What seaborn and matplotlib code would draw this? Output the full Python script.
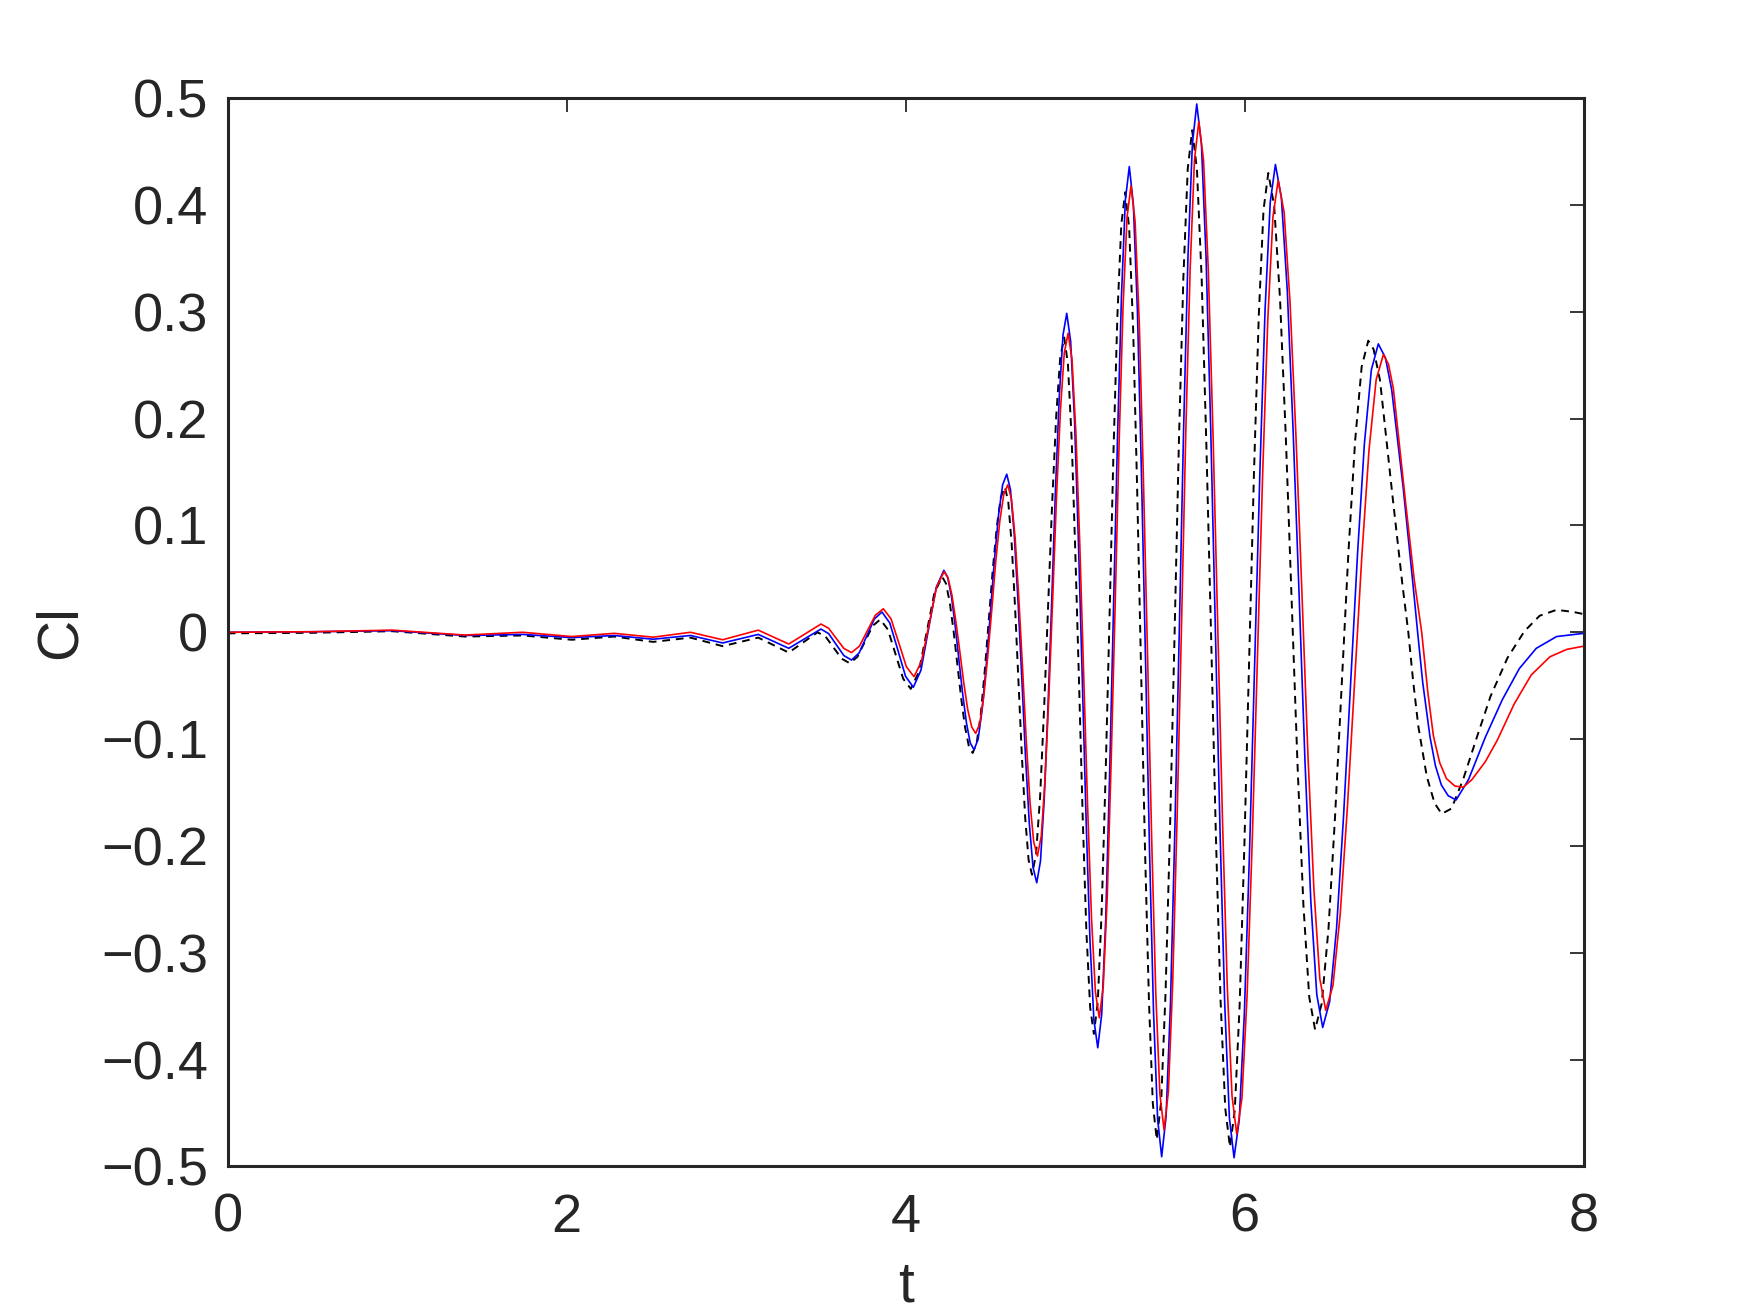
import numpy as np
import pandas as pd
import seaborn as sns
import matplotlib
matplotlib.use("Agg")
import matplotlib.pyplot as plt

# Cl(t), (t, Cl) pairs per curve
black_pts = [(0.0,-0.001),(0.5,-0.0005),(0.97,0.001),(1.40,-0.004),(1.74,-0.003),(2.03,-0.007),(2.28,-0.004),
    (2.51,-0.009),(2.73,-0.005),(2.92,-0.013),(3.13,-0.005),(3.31,-0.019),(3.395,-0.0095),(3.48,0.0),
    (3.528,-0.0042),(3.575,-0.0145),(3.623,-0.0248),(3.67,-0.029),(3.715,-0.023),(3.76,-0.0085),(3.805,0.006),
    (3.85,0.012),(3.895,0.0025),(3.94,-0.0205),(3.985,-0.0435),(4.03,-0.053),(4.076,-0.0377),(4.123,-0.0005),
    (4.169,0.0367),(4.215,0.052),(4.26,0.0279),(4.305,-0.0305),(4.35,-0.0889),(4.395,-0.113),(4.443,-0.0766),
    (4.49,0.0115),(4.538,0.0996),(4.585,0.136),(4.625,0.083),(4.665,-0.0455),(4.705,-0.174),(4.745,-0.227),
    (4.793,-0.1536),(4.84,0.0245),(4.888,0.2026),(4.935,0.276),(4.979,0.1808),(5.023,-0.05),(5.066,-0.2808),
    (5.11,-0.376),(5.156,-0.261),(5.203,0.018),(5.249,0.297),(5.295,0.412),(5.342,0.2825),(5.388,-0.0315),
    (5.435,-0.3455),(5.481,-0.475),(5.533,-0.337),(5.586,-0.0025),(5.638,0.332),(5.69,0.47),(5.746,0.331),
    (5.802,-0.006),(5.857,-0.343),(5.913,-0.482),(5.970,-0.3488),(6.026,-0.026),(6.083,0.2968),(6.139,0.43),
    (6.208,0.3129),(6.277,0.029),(6.346,-0.2549),(6.415,-0.372),(6.494,-0.2778),(6.572,-0.0495),(6.651,0.1788),
    (6.729,0.273),(6.76,0.265),(6.798,0.236),(6.87,0.13),(6.93,0.045),(6.965,0.0),(6.993,-0.045),(7.024,-0.088),
    (7.074,-0.135),(7.12,-0.160),(7.162,-0.170),(7.22,-0.165),(7.29,-0.137),(7.37,-0.098),(7.45,-0.060),
    (7.55,-0.024),(7.65,0.001),(7.74,0.0155),(7.84,0.021),(7.94,0.019),(8.0,0.017)]
black_extra = [(4.2375,0.0457),(4.2825,0.001),(4.3275,-0.062),(4.3725,-0.1067),
    (4.4188,-0.1035),(4.4663,-0.0361),(4.5138,0.0591),(4.5613,0.1265),
    (4.605,0.1222),(4.645,0.0238),(4.685,-0.1148),(4.725,-0.2132),
    (4.7688,-0.2079),(4.8163,-0.0716),(4.8638,0.1206),(4.9113,0.2569),
    (4.9569,0.2512),(5.0006,0.0745),(5.0444,-0.1745),(5.0881,-0.3512),
    (5.1331,-0.3461),(5.1794,-0.1325),(5.2256,0.1685),(5.2719,0.3821),
    (5.3183,0.3783),(5.3648,0.1379),(5.4113,-0.2009),(5.4578,-0.4413),
    (5.5071,-0.4391),(5.5594,-0.183),(5.6116,0.178),(5.6639,0.4341),
    (5.7179,0.4338),(5.7736,0.1758),(5.8294,-0.1878),(5.8851,-0.4458),
    (5.9413,-0.4473),(5.9978,-0.2002),(6.0543,0.1482),(6.1108,0.3953),
    (6.1735,0.3995),(6.2425,0.1822),(6.3115,-0.1242),(6.3805,-0.3415),
    (6.4543,-0.3475),(6.5328,-0.1727),(6.6113,0.0737),(6.6898,0.2485)]

blue_pts = [(0.0,0.0),(0.5,0.0005),(0.97,0.0015),(1.40,-0.003),(1.74,-0.002),(2.03,-0.005),(2.28,-0.003),
    (2.51,-0.0065),(2.73,-0.003),(2.92,-0.010),(3.13,-0.002),(3.31,-0.015),(3.405,-0.006),(3.50,0.003),
    (3.545,-0.0012),(3.59,-0.0115),(3.635,-0.0218),(3.68,-0.026),(3.725,-0.0194),(3.77,-0.0035),(3.815,0.0124),
    (3.86,0.019),(3.906,0.0087),(3.953,-0.0163),(3.999,-0.0412),(4.045,-0.0515),(4.09,-0.0355),(4.135,0.0033),
    (4.18,0.042),(4.225,0.058),(4.27,0.0335),(4.314,-0.026),(4.359,-0.0855),(4.403,-0.110),(4.451,-0.0723),
    (4.50,0.019),(4.548,0.1103),(4.596,0.148),(4.640,0.0922),(4.685,-0.0433),(4.729,-0.1787),(4.773,-0.2345),
    (4.817,-0.1567),(4.862,0.0321),(4.906,0.2208),(4.950,0.2986),(4.996,0.1982),(5.042,-0.0452),(5.087,-0.2886),
    (5.133,-0.389),(5.180,-0.2685),(5.226,0.0235),(5.273,0.3156),(5.319,0.436),(5.367,0.3007),(5.415,-0.0275),
    (5.462,-0.3557),(5.510,-0.491),(5.562,-0.3471),(5.614,0.0018),(5.665,0.3507),(5.717,0.4946),(5.772,0.3506),
    (5.827,0.0013),(5.882,-0.348),(5.937,-0.492),(5.998,-0.3562),(6.059,-0.027),(6.120,0.3022),(6.181,0.438),
    (6.251,0.320),(6.321,0.034),(6.390,-0.252),(6.460,-0.370),(6.542,-0.2766),(6.624,-0.05),(6.706,0.1766),
    (6.788,0.270),(6.83,0.257),(6.867,0.227),(6.935,0.135),(6.99,0.049),(7.02,0.0),(7.05,-0.047),(7.093,-0.098),
    (7.125,-0.125),(7.16,-0.143),(7.20,-0.153),(7.247,-0.157),(7.32,-0.138),(7.42,-0.098),(7.52,-0.063),
    (7.62,-0.034),(7.72,-0.015),(7.84,-0.004),(8.0,-0.001)]
blue_extra = [(4.2473,0.0516),(4.2918,0.0061),(4.3363,-0.0581),(4.3808,-0.1036),
    (4.427,-0.1002),(4.4754,-0.0303),(4.5236,0.0683),(4.5719,0.1382),
    (4.618,0.1335),(4.6624,0.0298),(4.7066,-0.1163),(4.7509,-0.220),
    (4.7951,-0.2142),(4.8394,-0.0698),(4.8836,0.1339),(4.9279,0.2783),
    (4.9729,0.2725),(5.0186,0.0861),(5.0644,-0.1765),(5.1101,-0.3629),
    (5.1563,-0.3576),(5.2028,-0.1341),(5.2493,0.1811),(5.2958,0.4047),
    (5.3429,0.4008),(5.3906,0.1496),(5.4384,-0.2046),(5.4861,-0.4558),
    (5.5359,-0.4535),(5.5876,-0.1864),(5.6394,0.1901),(5.6911,0.4571),
    (5.7445,0.4571),(5.7995,0.1897),(5.8545,-0.1871),(5.9095,-0.4545),
    (5.9675,-0.4567),(6.0285,-0.2046),(6.0895,0.1506),(6.1505,0.4027),
    (6.2159,0.4073),(6.2856,0.1883),(6.3554,-0.1203),(6.4251,-0.3393),
    (6.501,-0.3457),(6.583,-0.1722),(6.665,0.0722),(6.747,0.2457)]

red_pts = [(0.0,0.0),(0.5,0.0005),(0.97,0.002),(1.40,-0.0026),(1.74,0.0),(2.03,-0.004),(2.28,-0.001),
    (2.51,-0.0046),(2.73,0.0),(2.92,-0.007),(3.13,0.002),(3.31,-0.011),(3.405,-0.0017),(3.50,0.0077),
    (3.545,0.0038),(3.59,-0.0057),(3.635,-0.0151),(3.68,-0.019),(3.727,-0.013),(3.774,0.0015),(3.821,0.016),
    (3.868,0.022),(3.913,0.0127),(3.959,-0.0098),(4.004,-0.0323),(4.049,-0.0416),(4.093,-0.0272),(4.138,0.0076),
    (4.182,0.0423),(4.226,0.0567),(4.273,0.0346),(4.320,-0.019),(4.366,-0.0725),(4.413,-0.0946),(4.460,-0.0606),
    (4.508,0.0217),(4.555,0.104),(4.602,0.138),(4.646,0.0873),(4.690,-0.0358),(4.733,-0.1588),(4.777,-0.2095),
    (4.822,-0.138),(4.868,0.0353),(4.913,0.2085),(4.958,0.280),(5.004,0.1864),(5.050,-0.0405),(5.096,-0.2674),
    (5.142,-0.361),(5.189,-0.2473),(5.236,0.0285),(5.282,0.3043),(5.329,0.418),(5.378,0.2889),(5.427,-0.024),
    (5.475,-0.3369),(5.524,-0.466),(5.575,-0.3282),(5.627,0.006),(5.678,0.3402),(5.729,0.478),(5.785,0.3396),
    (5.841,0.004),(5.897,-0.3316),(5.953,-0.470),(6.014,-0.3396),(6.075,-0.0235),(6.136,0.2926),(6.197,0.423),
    (6.267,0.3096),(6.338,0.0345),(6.408,-0.2406),(6.478,-0.354),(6.563,-0.2644),(6.648,-0.047),(6.733,0.1704),
    (6.818,0.260),(6.848,0.251),(6.877,0.228),(6.95,0.12),(7.0,0.049),(7.044,0.0),(7.08,-0.056),(7.113,-0.097),
    (7.15,-0.122),(7.19,-0.137),(7.24,-0.144),(7.29,-0.145),(7.34,-0.138),(7.42,-0.121),(7.49,-0.101),
    (7.59,-0.067),(7.69,-0.040),(7.80,-0.023),(7.90,-0.016),(8.0,-0.013)]
red_extra = [(4.2494,0.051),(4.2961,0.0099),(4.3429,-0.0479),(4.3896,-0.0888),
    (4.4366,-0.0858),(4.4839,-0.0227),(4.5311,0.0661),(4.5784,0.1292),
    (4.6239,0.1248),(4.6676,0.0306),(4.7114,-0.1021),(4.7551,-0.1963),
    (4.7996,-0.1909),(4.8449,-0.0582),(4.8901,0.1288),(4.9354,0.2614),
    (4.981,0.2556),(5.027,0.0819),(5.073,-0.1629),(5.119,-0.3366),
    (5.1654,-0.3314),(5.2121,-0.1203),(5.2589,0.1773),(5.3056,0.3884),
    (5.3534,0.3844),(5.4021,0.1448),(5.4509,-0.1928),(5.4996,-0.4324),
    (5.5496,-0.4301),(5.6009,-0.1743),(5.6521,0.1863),(5.7034,0.4421),
    (5.757,0.442),(5.813,0.1851),(5.869,-0.1771),(5.925,-0.434),
    (5.9835,-0.4361),(6.0445,-0.1941),(6.1055,0.1471),(6.1665,0.3891),
    (6.2321,0.3935),(6.3024,0.1829),(6.3726,-0.1139),(6.4429,-0.3245),
    (6.5205,-0.3307),(6.6055,-0.1643),(6.6905,0.0703),(6.7755,0.2367)]

xtick_vals = [0, 2, 4, 6, 8]
xtick_labels = ["0", "2", "4", "6", "8"]
ytick_vals = [0.5, 0.4, 0.3, 0.2, 0.1, 0, -0.1, -0.2, -0.3, -0.4, -0.5]
ytick_labels = ["0.5", "0.4", "0.3", "0.2", "0.1", "0",
                "\u22120.1", "\u22120.2", "\u22120.3", "\u22120.4", "\u22120.5"]

sns.set_theme(style="white")
plt.rcParams['font.family'] = ['Liberation Sans', 'DejaVu Sans']
ink = '#262626'

fig = plt.figure(figsize=(17.5, 13.13), dpi=100)
ax = fig.add_axes([0.1301, 0.1117, 0.7749, 0.8135])

curves = [(black_pts + black_extra, 'black', (0, (4, 3)), 1.4),
          (blue_pts + blue_extra, '#0000ff', '-', 1.2),
          (red_pts + red_extra, '#ff0000', '-', 1.2)]
for pts, col, ls, lw in curves:
    df = pd.DataFrame(pts, columns=['t', 'Cl']).sort_values('t')
    sns.lineplot(data=df, x='t', y='Cl', ax=ax, color=col, linestyle=ls, linewidth=lw,
                 estimator=None, sort=False)

ax.set_xlim(0, 8)
ax.set_ylim(-0.5, 0.5)
ax.set_xticks(xtick_vals)
ax.set_xticklabels(xtick_labels)
ax.set_yticks(ytick_vals)
ax.set_yticklabels(ytick_labels)
ax.tick_params(direction='in', length=10, width=1.3, color=ink, labelcolor=ink,
               labelsize=39, top=True, right=True)
ax.tick_params(axis='x', pad=19)
ax.tick_params(axis='y', pad=14)
for s in ax.spines.values():
    s.set_color(ink)
    s.set_linewidth(2.2)
ax.set_xlabel('t', fontsize=41, color=ink, labelpad=12)
ax.set_ylabel('Cl', fontsize=41, color=ink, labelpad=10)

fig.savefig('out.png', dpi=100, facecolor='white')
